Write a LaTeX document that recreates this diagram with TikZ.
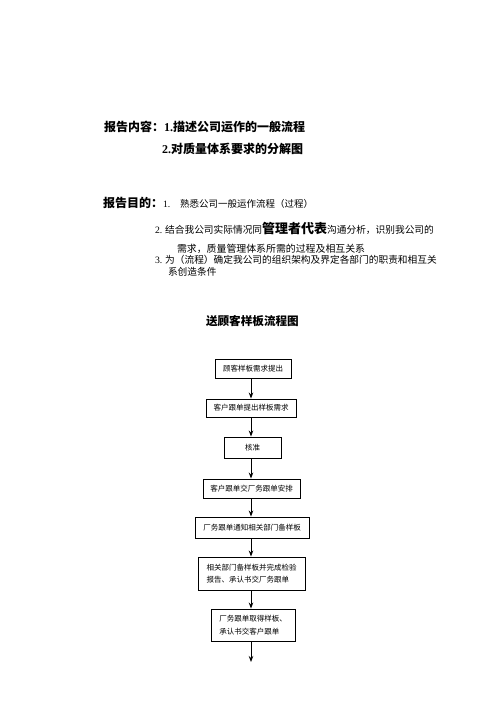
\documentclass[tikz,border=0pt]{standalone}
\usepackage{fontspec}
\setmainfont{Liberation Serif}
\newfontfamily\cjk{Noto Sans CJK SC}
\usetikzlibrary{arrows.meta}
\begin{document}
\begin{tikzpicture}[x=1pt,y=-1pt,
  txt/.style={anchor=base west,inner sep=0pt,outer sep=0pt},
  flowbox/.style={draw,line width=0.9pt,inner sep=2pt,align=left,
    font=\cjk\fontsize{7.5}{12.5}\selectfont},
  arr/.style={line width=0.9pt,-{Stealth[length=6pt,width=4.5pt]}}]
\useasboundingbox[fill=white] (0,0) rectangle (496,702);
% headings
\node[txt,font=\cjk\bfseries\fontsize{12}{14}\selectfont] (h1) at (104,131.6) {报告内容：{\rmfamily\bfseries 1.}描述公司运作的一般流程};
\node[txt,font=\cjk\bfseries\fontsize{12}{14}\selectfont] (h2) at (162,153.6) {{\rmfamily\bfseries 2.}对质量体系要求的分解图};
\node[txt,font=\cjk\bfseries\fontsize{12}{14}\selectfont] (g0) at (103,207.5) {报告目的：};
\node[txt,font=\rmfamily\fontsize{9.7}{12}\selectfont] (g1n) at (163,207.5) {1.};
\node[txt,font=\cjk\fontsize{9.5}{12}\selectfont] (g1) at (180,207.5) {熟悉公司一般运作流程（过程）};
\node[txt,font=\cjk\fontsize{9.7}{12}\selectfont] (g2) at (155,233.7) {{\rmfamily 2.} 结合我公司实际情况同{\bfseries\fontsize{13}{14}\selectfont 管理者代表}沟通分析，识别我公司的};
\node[txt,font=\cjk\fontsize{9.9}{12}\selectfont] (g3) at (177,252.7) {需求，质量管理体系所需的过程及相互关系};
\node[txt,font=\cjk\fontsize{9.7}{12}\selectfont] (g4) at (155,263.7) {{\rmfamily 3.} 为（流程）确定我公司的组织架构及界定各部门的职责和相互关};
\node[txt,font=\cjk\fontsize{9.7}{12}\selectfont] (g5) at (168,275.7) {系创造条件};
\node[txt,font=\cjk\bfseries\fontsize{11.6}{14}\selectfont] (title) at (206,325.6) {送顾客样板流程图};
% flow boxes
\node[flowbox,minimum width=76pt,minimum height=19pt] (b1) at (253,368.5) {顾客样板需求提出};
\node[flowbox,minimum width=90pt,minimum height=18pt] (b2) at (251,408) {客户跟单提出样板需求};
\node[flowbox,minimum width=57pt,minimum height=21pt] (b3) at (252.5,447.5) {核准};
\node[flowbox,minimum width=97pt,minimum height=19pt] (b4) at (251.5,488.5) {客户跟单交厂务跟单安排};
\node[flowbox,minimum width=114pt,minimum height=21pt] (b5) at (252,527.5) {厂务跟单通知相关部门备样板};
\node[flowbox,minimum width=107pt,minimum height=33pt] (b6) at (251.5,573.5) {相关部门备样板并完成检验\\报告、承认书交厂务跟单};
\node[flowbox,minimum width=84pt,minimum height=32pt,font=\cjk\fontsize{7.5}{13}\selectfont] (b7) at (253,625) {厂务跟单取得样板、\\承认书交客户跟单};
\coordinate (col) at (251,0);
\coordinate (end) at (251,662);
\draw[arr] (b1.south -| col) -- (b2.north -| col);
\draw[arr] (b2.south -| col) -- (b3.north -| col);
\draw[arr] (b3.south -| col) -- (b4.north -| col);
\draw[arr] (b4.south -| col) -- (b5.north -| col);
\draw[arr] (b5.south -| col) -- (b6.north -| col);
\draw[arr] (b6.south -| col) -- (b7.north -| col);
\draw[arr] (b7.south -| col) -- (end);
\end{tikzpicture}
\end{document}
